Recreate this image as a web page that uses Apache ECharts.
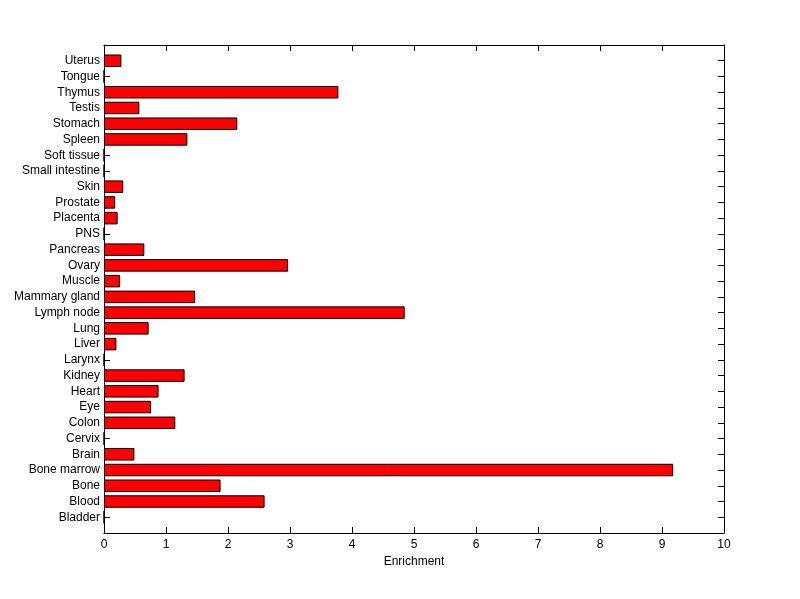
<!DOCTYPE html>
<html><head><meta charset="utf-8">
<script src="https://cdn.jsdelivr.net/npm/echarts@6/dist/echarts.min.js"></script>
<style>html,body{margin:0;padding:0;background:#fff}#c{width:800px;height:599px}</style>
</head><body><div id="c"></div>
<script>
const categories = ['Bladder','Blood','Bone','Bone marrow','Brain','Cervix','Colon','Eye','Heart','Kidney','Larynx','Liver','Lung','Lymph node','Mammary gland','Muscle','Ovary','Pancreas','PNS','Placenta','Prostate','Skin','Small intestine','Soft tissue','Spleen','Stomach','Testis','Thymus','Tongue','Uterus'];
const enrichment = [0,2.59,1.88,9.18,0.49,0,1.15,0.76,0.88,1.30,0,0.20,0.72,4.85,1.47,0.26,2.97,0.65,0,0.22,0.18,0.31,0,0,1.345,2.15,0.57,3.78,0,0.28];
const xTicks = [0,1,2,3,4,5,6,7,8,9,10];

const axisCats = [''].concat(categories, ['']);
const axisVals = [null].concat(enrichment, [null]);
const font = {fontFamily:'Liberation Sans, Arial, sans-serif', fontSize:12, color:'#000'};
const line = {show:true,onZero:false,lineStyle:{color:'#000',width:1}};
const tick = {show:true,inside:true,length:6,interval:0,lineStyle:{color:'#000'}};
const chart = echarts.init(document.getElementById('c'), null, {renderer:'canvas'});
chart.setOption({
  backgroundColor:'#fff',
  animation:false,
  grid:{left:104,right:76,top:45,bottom:66,containLabel:false},
  xAxis:[{
    type:'value', min:xTicks[0], max:xTicks[xTicks.length-1], interval:1, position:'bottom',
    name:'Enrichment', nameLocation:'middle', nameGap:22,
    nameTextStyle:Object.assign({},font),
    axisLine:line, axisTick:tick,
    axisLabel:Object.assign({margin:6},font),
    splitLine:{show:false}
  },{
    type:'value', min:xTicks[0], max:xTicks[xTicks.length-1], interval:1, position:'top',
    axisLine:line, axisTick:tick,
    axisLabel:{show:false}, splitLine:{show:false}
  }],
  yAxis:[{
    type:'category', data:axisCats, boundaryGap:false, position:'left',
    axisLine:line, axisTick:tick,
    axisLabel:Object.assign({interval:0,margin:4},font),
    splitLine:{show:false}
  },{
    type:'category', data:axisCats, boundaryGap:false, position:'right',
    axisLine:line, axisTick:tick,
    axisLabel:{show:false}, splitLine:{show:false}
  }],
  series:[{
    type:'bar', xAxisIndex:0, yAxisIndex:0, data:axisVals, barWidth:12.5,
    itemStyle:{color:'#ff0000',borderColor:'#000',borderWidth:1}
  }]
});
</script></body></html>
